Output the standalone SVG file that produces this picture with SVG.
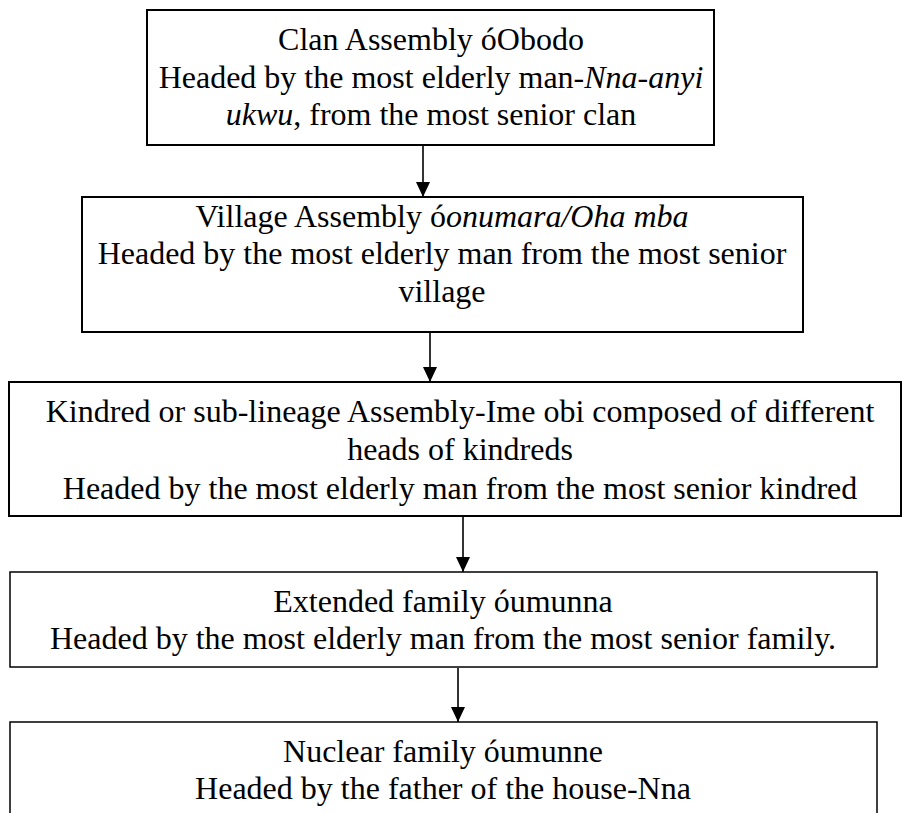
<svg xmlns="http://www.w3.org/2000/svg" width="903" height="813" viewBox="0 0 903 813">
<style>
.box{fill:#fff;stroke:#000;stroke-width:2}
.box2{fill:#fff;stroke:#000;stroke-width:1.5}
.t{font-family:"Liberation Serif","Times New Roman",serif;font-size:32px;fill:#000;text-anchor:middle}
.i{font-style:italic}
.conn{stroke:#000;stroke-width:1.6;fill:none;marker-end:url(#ah)}
</style>
<defs>
<marker id="ah" markerUnits="userSpaceOnUse" markerWidth="15" markerHeight="14" viewBox="0 0 15 14" refX="15" refY="7" orient="auto">
<path d="M0,0 L15,7 L0,14 Z" fill="#000"/>
</marker>
</defs>
<g id="node-clan">
<rect class="box" x="147" y="10" width="567" height="135"/>
<text class="t" x="431" y="50">Clan Assembly óObodo</text>
<text class="t" x="431" y="87.5">Headed by the most elderly man-<tspan class="i">Nna-anyi</tspan></text>
<text class="t" x="431" y="125"><tspan class="i">ukwu</tspan>, from the most senior clan</text>
</g>
<g id="node-village">
<rect class="box" x="82" y="197" width="721" height="135"/>
<text class="t" x="442" y="227">Village Assembly ó<tspan class="i">onumara/Oha mba</tspan></text>
<text class="t" x="442" y="264">Headed by the most elderly man from the most senior</text>
<text class="t" x="442" y="301.5">village</text>
</g>
<g id="node-kindred">
<rect class="box" x="9" y="382" width="892" height="134"/>
<text class="t" x="460" y="421.5">Kindred or sub-lineage Assembly-Ime obi composed of different</text>
<text class="t" x="460" y="460">heads of kindreds</text>
<text class="t" x="460" y="498.5">Headed by the most elderly man from the most senior kindred</text>
</g>
<g id="node-extended">
<rect class="box2" x="10" y="572" width="867" height="95"/>
<text class="t" x="443" y="611.5">Extended family óumunna</text>
<text class="t" x="443" y="648.5">Headed by the most elderly man from the most senior family.</text>
</g>
<g id="node-nuclear">
<rect class="box2" x="10" y="722" width="867" height="100"/>
<text class="t" x="443" y="761.5">Nuclear family óumunne</text>
<text class="t" x="443" y="798.5">Headed by the father of the house-Nna</text>
</g>
<g id="connectors">
<line class="conn" x1="423" y1="146" x2="423" y2="197"/>
<line class="conn" x1="430" y1="333" x2="430" y2="382"/>
<line class="conn" x1="463" y1="517" x2="463" y2="572"/>
<line class="conn" x1="458" y1="668" x2="458" y2="722"/>
</g>
</svg>
